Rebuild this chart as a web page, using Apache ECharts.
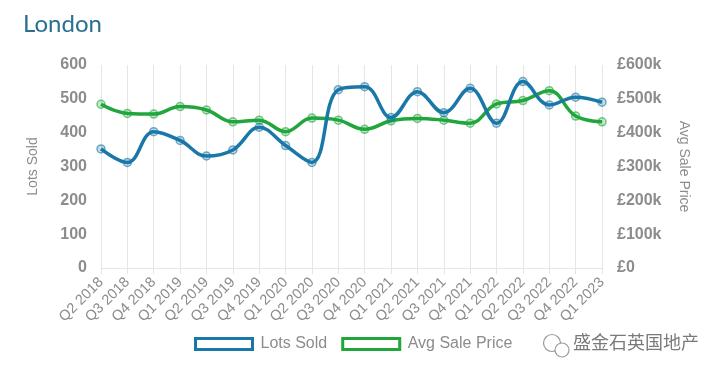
<!DOCTYPE html>
<html><head><meta charset="utf-8">
<script src="https://cdn.jsdelivr.net/npm/echarts@6/dist/echarts.min.js"></script>
<style>html,body{margin:0;padding:0;background:#fff}#c{width:720px;height:373px}</style>
</head><body><div id="c"></div>
<script>
const categories = ['Q2 2018','Q3 2018','Q4 2018','Q1 2019','Q2 2019','Q3 2019','Q4 2019','Q1 2020','Q2 2020','Q3 2020','Q4 2020','Q1 2021','Q2 2021','Q3 2021','Q4 2021','Q1 2022','Q2 2022','Q3 2022','Q4 2022','Q1 2023'];
const lotsSold = [352,312,403,377,331,349,416,362,312,527,536,445,521,459,531,428,551,482,505,490];
const avgSalePrice = [484000,457000,455000,477000,467000,432000,437000,403000,443000,437000,410000,435000,442000,437000,428000,485000,495000,524000,449000,432000];
const leftTicks = [0,100,200,300,400,500,600];
const rightTickMax = 600000;

const chart = echarts.init(document.getElementById('c'), null, {renderer:'canvas'});
const axisLabelStyle = {color:'#8c8c8c', fontSize:16, fontWeight:'bold', fontFamily:'Liberation Sans, Arial, sans-serif'};
chart.setOption({
  animation:false,
  title:{text:'London', left:18, top:7, textStyle:{color:'#2b6f92', fontSize:24, fontWeight:'normal', fontFamily:'Lato, Open Sans, sans-serif'}},
  legend:{
    top:331, left:189,
    itemWidth:57, itemHeight:11, itemGap:14,
    textStyle:{color:'#8c8c8c', fontSize:16, fontFamily:'Liberation Sans, Arial, sans-serif', padding:[0,0,0,3]},
    data:[
      {name:'Lots Sold', icon:'rect', itemStyle:{color:'#fff', borderColor:'#1a78a8', borderWidth:3}},
      {name:'Avg Sale Price', icon:'rect', itemStyle:{color:'#fff', borderColor:'#21a63c', borderWidth:3}}
    ]
  },
  grid:{left:101, right:118, top:65, bottom:105},
  xAxis:{
    type:'category', data:categories, boundaryGap:false,
    axisLine:{lineStyle:{color:'#e6e6e6', width:1}},
    axisTick:{show:true, length:6, lineStyle:{color:'#e6e6e6'}},
    splitLine:{show:true, lineStyle:{color:'#e6e6e6', width:1}},
    axisLabel:{rotate:45, color:'#8c8c8c', fontSize:14.5, fontFamily:'Liberation Sans, Arial, sans-serif', margin:12, interval:0}
  },
  yAxis:[
    {type:'value', min:leftTicks[0], max:leftTicks[leftTicks.length-1], interval:100,
     name:'Lots Sold', nameLocation:'middle', nameGap:61, nameRotate:90,
     nameTextStyle:{color:'#8c8c8c', fontSize:14, fontFamily:'Liberation Sans Narrow, Liberation Sans, Arial, sans-serif'},
     axisLine:{show:false}, axisTick:{show:false}, splitLine:{show:false},
     axisLabel:Object.assign({margin:14}, axisLabelStyle)},
    {type:'value', min:0, max:rightTickMax, interval:100000,
     name:'Avg Sale Price', nameLocation:'middle', nameGap:75, nameRotate:-90,
     nameTextStyle:{color:'#8c8c8c', fontSize:14, fontFamily:'Liberation Sans Narrow, Liberation Sans, Arial, sans-serif'},
     axisLine:{show:false}, axisTick:{show:false}, splitLine:{show:false},
     axisLabel:Object.assign({margin:15, formatter:v => v===0 ? '£0' : '£'+(v/1000)+'k'}, axisLabelStyle)}
  ],
  series:[
    {name:'Lots Sold', type:'line', yAxisIndex:0, data:lotsSold, smooth:0.4,
     lineStyle:{color:'#1a78a8', width:3.5}, itemStyle:{color:'rgba(26,120,168,0.25)', borderColor:'rgba(26,120,168,0.6)', borderWidth:1.5},
     symbol:'circle', symbolSize:8, z:3},
    {name:'Avg Sale Price', type:'line', yAxisIndex:1, data:avgSalePrice, smooth:0.4,
     lineStyle:{color:'#21a63c', width:3.5}, itemStyle:{color:'rgba(33,166,60,0.25)', borderColor:'rgba(33,166,60,0.6)', borderWidth:1.5},
     symbol:'circle', symbolSize:8, z:2}
  ],
  graphic:[
    {type:'text', left:573, top:333, style:{text:'盛金石英国地产', fill:'#7a7a7a', font:'18px "Noto Sans CJK SC", sans-serif'}},
    {type:'group', left:541, top:332, children:[
      {type:'circle', shape:{cx:10, cy:9, r:8.5}, style:{fill:'none', stroke:'#9a9a9a', lineWidth:1.2}},
      {type:'circle', shape:{cx:20, cy:16, r:7}, style:{fill:'#fff', stroke:'#9a9a9a', lineWidth:1.2}}
    ]}
  ]
});
</script></body></html>
